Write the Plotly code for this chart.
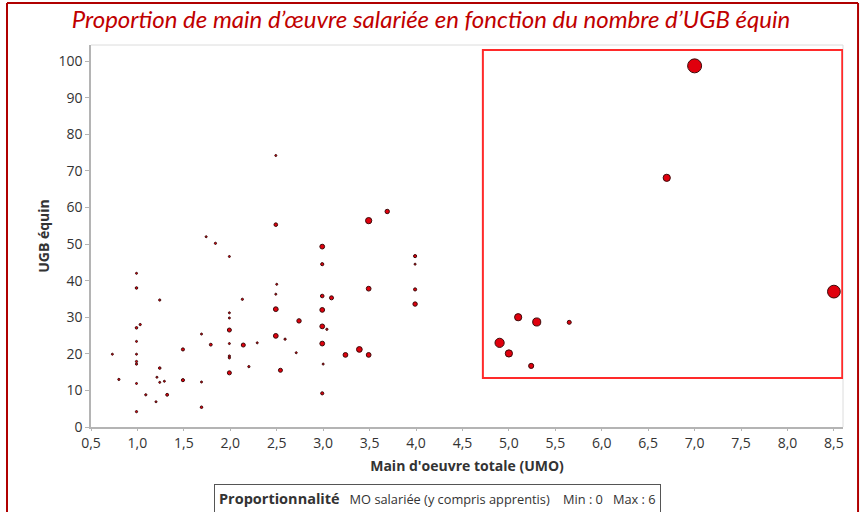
import plotly.graph_objects as go

# Main d'oeuvre totale (UMO), UGB équin, MO salariée (y compris apprentis)
umo = [
    0.73, 0.80, 0.99, 0.99, 0.99, 1.03, 0.99, 0.99, 0.99, 0.99,
    0.99, 0.99, 1.09, 1.20, 1.21, 1.24, 1.24, 1.24, 1.29, 1.32,
    1.49, 1.49, 1.69, 1.69, 1.69, 1.74, 1.79, 1.84, 1.99, 1.99,
    1.99, 1.99, 1.99, 1.99, 1.99, 1.99, 2.13, 2.14, 2.20, 2.29,
    2.49, 2.49, 2.50, 2.49, 2.49, 2.49, 2.54, 2.59, 2.71, 2.74,
    2.99, 2.99, 2.99, 2.99, 2.99, 2.99, 3.00, 2.99, 3.04, 3.09,
    3.24, 3.39, 3.49, 3.49, 3.49, 3.69, 3.99, 3.99, 3.99, 3.99,
    4.90, 5.00, 5.10, 5.24, 5.30, 5.65, 6.70, 7.00, 8.50,
]
ugb = [
    19.9, 13.0, 42.0, 38.0, 27.1, 28.0, 23.4, 19.9, 17.9, 17.2,
    11.9, 4.2, 8.8, 6.9, 13.6, 34.7, 16.1, 12.2, 12.5, 8.8,
    21.2, 12.8, 25.4, 12.3, 5.4, 52.0, 22.5, 50.2, 46.6, 31.2,
    29.8, 26.5, 22.8, 19.4, 18.9, 14.8, 34.9, 22.4, 16.5, 23.0,
    74.2, 55.3, 39.0, 36.3, 32.2, 24.9, 15.5, 24.0, 20.3, 29.0,
    49.3, 44.5, 35.8, 32.0, 27.5, 22.8, 17.2, 9.2, 26.7, 35.3,
    19.7, 21.2, 19.7, 56.4, 37.8, 58.9, 46.7, 44.5, 37.6, 33.6,
    23.0, 20.1, 30.0, 16.7, 28.7, 28.6, 68.1, 98.7, 37.0,
]
mo_salariee = [
    0.05, 0.15, 0.05, 0.2, 0.2, 0.15, 0.05, 0.05, 0.15, 0.15,
    0.05, 0.15, 0.15, 0.1, 0.05, 0.15, 0.2, 0.1, 0.1, 0.25,
    0.3, 0.3, 0.05, 0.1, 0.2, 0.1, 0.25, 0.15, 0.1, 0.1,
    0.1, 0.5, 0.05, 0.15, 0.15, 0.5, 0.15, 0.5, 0.15, 0.1,
    0.05, 0.4, 0.05, 0.1, 0.7, 0.7, 0.5, 0.15, 0.1, 0.6,
    0.7, 0.3, 0.4, 0.7, 0.7, 0.7, 0.05, 0.3, 0.15, 0.5,
    0.7, 1.0, 0.7, 1.2, 0.7, 0.6, 0.3, 0.05, 0.3, 0.6,
    2.6, 1.6, 1.6, 0.8, 2.0, 0.5, 1.6, 6.0, 5.0,
]

max_size = 14
fig = go.Figure(
    go.Scatter(
        x=umo,
        y=ugb,
        mode="markers",
        marker=dict(
            size=mo_salariee,
            sizemode="area",
            sizeref=2.0 * max(mo_salariee) / max_size ** 2,
            sizemin=1,
            color="#e0000d",
            opacity=1,
            line=dict(color="#3c0a0a", width=1),
        ),
        hoverinfo="x+y",
    )
)

axis_font = dict(family="Open Sans, sans-serif", size=14, color="#333333")
fig.update_xaxes(
    range=[0.5, 8.598],
    dtick=0.5,
    tick0=0.5,
    tickformat=".1f",
    showgrid=False,
    zeroline=False,
    showline=True,
    linecolor="#b4b4b4",
    linewidth=2,
    ticks="outside",
    ticklen=2,
    tickcolor="#b4b4b4",
    tickfont=axis_font,
    title=dict(text="<b>Main d'oeuvre totale (UMO)</b>", font=axis_font, standoff=10),
)
fig.update_yaxes(
    range=[0, 104.4],
    dtick=10,
    showgrid=False,
    zeroline=False,
    showline=True,
    linecolor="#b4b4b4",
    linewidth=1.5,
    ticks="outside",
    ticklen=4,
    tickcolor="#b4b4b4",
    tickfont=axis_font,
    title=dict(text="<b>UGB équin</b>", font=axis_font, standoff=6),
)

# light frame on top/right of the plot area
fig.add_shape(type="line", xref="paper", yref="paper", x0=0, x1=1, y0=1, y1=1,
              line=dict(color="#dcdcdc", width=1))
fig.add_shape(type="line", xref="paper", yref="paper", x0=1, x1=1, y0=0, y1=1,
              line=dict(color="#dcdcdc", width=1))

# red highlight box round the large farms
fig.add_shape(type="rect", xref="x", yref="y", x0=4.72, x1=8.59, y0=13.4, y1=103,
              line=dict(color="#ff2a2a", width=2))

# dark red page frame
frame = dict(color="#b00000", width=2)
fig.add_shape(type="line", xref="paper", yref="paper", x0=-0.1117, x1=-0.1117, y0=-0.23, y1=1.11, line=frame)
fig.add_shape(type="line", xref="paper", yref="paper", x0=1.02, x1=1.02, y0=-0.23, y1=1.11, line=frame)
fig.add_shape(type="line", xref="paper", yref="paper", x0=-0.1117, x1=1.02, y0=1.11, y1=1.11, line=frame)

# size legend
fig.add_annotation(
    xref="paper", yref="paper", x=0.4608, y=-0.186,
    xanchor="center", yanchor="middle", showarrow=False,
    text=("<b><span style='font-size:14.5px'>Proportionnalité</span></b>"
          "&nbsp;&nbsp;&nbsp;MO salariée (y compris apprentis)&nbsp;&nbsp;&nbsp;&nbsp;"
          "Min : 0&nbsp;&nbsp;&nbsp;Max : 6"),
    font=dict(family="Open Sans, sans-serif", size=12.8, color="#333333"),
    bordercolor="#555555", borderwidth=1, borderpad=4, bgcolor="white",
)

fig.update_layout(
    width=862,
    height=512,
    margin=dict(l=91, r=19, t=45, b=85),
    paper_bgcolor="white",
    plot_bgcolor="white",
    separators=", ",
    showlegend=False,
    title=dict(
        text="<i>Proportion de main d’œuvre salariée en fonction du nombre d’UGB équin</i>",
        x=0.5, xanchor="center", y=0.962, yanchor="middle",
        font=dict(family="Lato, sans-serif", size=24, color="#c00000"),
    ),
)

fig.write_html("out.html", config={"displayModeBar": False},
               post_script="document.body.style.margin='0';")
